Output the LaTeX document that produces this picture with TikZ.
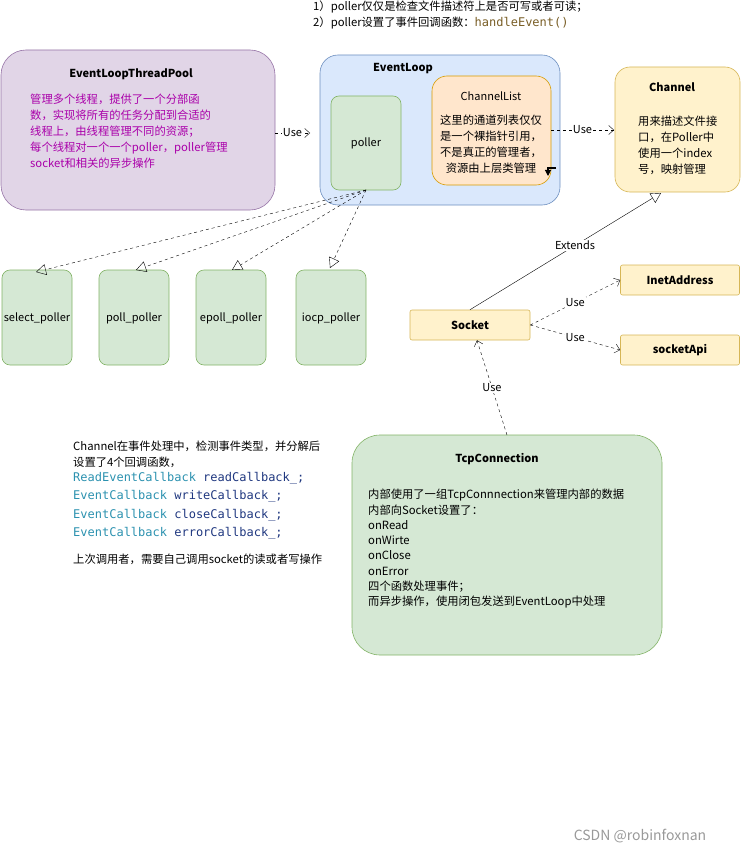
\documentclass[tikz,border=0pt]{standalone}
\usepackage{fontspec}
\setmainfont{Noto Sans CJK SC}
\newfontfamily\codefont{DejaVu Sans Mono}
\usetikzlibrary{arrows.meta,positioning}
\definecolor{poolfill}{HTML}{E1D5E7}\definecolor{pooldraw}{HTML}{9673A6}
\definecolor{loopfill}{HTML}{DAE8FC}\definecolor{loopdraw}{HTML}{6C8EBF}
\definecolor{grnfill}{HTML}{D5E8D4}\definecolor{grndraw}{HTML}{82B366}
\definecolor{orgfill}{HTML}{FFE6CC}\definecolor{orgdraw}{HTML}{D79B00}
\definecolor{ylwfill}{HTML}{FFF2CC}\definecolor{ylwdraw}{HTML}{D6B656}
\definecolor{purtext}{HTML}{AA00AA}
\definecolor{typecol}{HTML}{2B91AF}\definecolor{varcol}{HTML}{1F377F}
\definecolor{fncol}{HTML}{795E26}
\tikzset{
  box/.style={draw, rounded corners=12pt, line width=0.6pt},
  usearrow/.style={dashed, -{Straight Barb[length=5pt,width=9pt]}},
  inherit/.style={-{Triangle[open,length=10pt,width=11pt]}},
  lbl/.style={font=\fontsize{11}{13}\selectfont, fill=white, inner sep=1pt},
  ttl/.style={font=\bfseries\fontsize{11}{13}\selectfont},
  txt/.style={font=\fontsize{11.3}{16}\selectfont, align=left, anchor=north west, inner sep=0pt},
  code/.style={font=\codefont\fontsize{12}{14}\selectfont, anchor=north west, inner sep=0pt}
}
\begin{document}
\begin{tikzpicture}[x=1pt,y=-1pt]
  \useasboundingbox (0,0) rectangle (741,853);
  % notes on top
  \node[txt] (note) at (313,1) {1）poller仅仅是检查文件描述符上是否可写或者可读；\\2）poller设置了事件回调函数：{\codefont\fontsize{12}{14}\selectfont\color{fncol}handleEvent()}};

  % main boxes
  \draw[box, fill=poolfill, draw=pooldraw, rounded corners=25pt] (1,50) rectangle (275,210);
  \coordinate (pool) at (275,133);
  \node[ttl] at (131,74) {EventLoopThreadPool};
  \node[txt, text=purtext] at (30,94) {管理多个线程，提供了一个分部函\\数，实现将所有的任务分配到合适的\\线程上，由线程管理不同的资源；\\每个线程对一个一个poller，poller管理\\socket和相关的异步操作};

  \draw[box, fill=loopfill, draw=loopdraw, rounded corners=18pt] (320,55) rectangle (560,205);
  \coordinate (loop) at (310,133);
  \node[ttl] at (403,69) {EventLoop};

  \draw[box, fill=grnfill, draw=grndraw, rounded corners=8pt] (331,96) rectangle (401,190);
  \node[font=\fontsize{11}{13}\selectfont] at (366,143) {poller};
  \coordinate (poller) at (366,190);

  \draw[box, fill=orgfill, draw=orgdraw, rounded corners=15pt] (432,76) rectangle (551,185);
  \node[font=\fontsize{11}{13}\selectfont] at (491,96) {ChannelList};
  \node[txt, align=center, anchor=north] at (491,115) {这里的通道列表仅仅\\是一个裸指针引用，\\不是真正的管理者，\\资源由上层类管理};
  \coordinate (clist) at (551,130);
  \draw[line width=1.2pt, -{Triangle[length=6pt,width=6pt]}] (556,168) -- (548,168) -- (548,176);

  \draw[box, fill=ylwfill, draw=ylwdraw, rounded corners=15pt] (615,67) rectangle (740,192);
  \node[ttl] at (672,87) {Channel};
  \node[txt] at (638,116) {用来描述文件接\\口，在Poller中\\使用一个index\\号，映射管理};
  \coordinate (chan) at (614,130);
  \coordinate (chanbot) at (661,193);

  % pollers
  \foreach \nm/\x in {select_poller/2, poll_poller/99, epoll_poller/196, iocp_poller/296}{
    \draw[box, fill=grnfill, draw=grndraw, rounded corners=8pt] (\x,270) rectangle (\x+70,365);
    \node[font=\fontsize{11}{13}\selectfont] (\nm) at (\x+35,318) {\detokenize\expandafter{\nm}};
  }
  \draw[dashed, inherit] (poller) -- (36,272);
  \draw[dashed, inherit] (poller) -- (136,270);
  \draw[dashed, inherit] (poller) -- (232,270);
  \draw[dashed, inherit] (poller) -- (330,268);

  % socket side
  \node[box, fill=ylwfill, draw=ylwdraw, rounded corners=2pt, minimum width=120pt, minimum height=30pt, ttl] (sock) at (470,325) {Socket};
  \node[box, fill=ylwfill, draw=ylwdraw, rounded corners=2pt, minimum width=119pt, minimum height=30pt, ttl] (inet) at (680,280) {InetAddress};
  \node[box, fill=ylwfill, draw=ylwdraw, rounded corners=2pt, minimum width=119pt, minimum height=30pt, ttl] (sapi) at (680,350) {socketApi};

  \draw[box, fill=grnfill, draw=grndraw, rounded corners=28pt] (352,435) rectangle (662,655);
  \node[ttl] at (497,459) {TcpConnection};
  \node[txt, font=\fontsize{11.3}{15.3}\selectfont] at (368,489) {内部使用了一组TcpConnnection来管理内部的数据\\内部向Socket设置了：\\onRead\\onWirte\\onClose\\onError\\四个函数处理事件；\\而异步操作，使用闭包发送到EventLoop中处理};
  \coordinate (tcp) at (507,435);

  % connectors
  \draw[usearrow] (pool) -- node[lbl]{Use} (loop);
  \draw[usearrow] (clist) -- node[lbl]{Use} (chan);
  \draw[inherit] (sock.north) -- node[lbl, pos=0.55]{Extends} (chanbot);
  \draw[usearrow] (sock.east) -- node[lbl]{Use} (inet.west);
  \draw[usearrow] (sock.east) -- node[lbl]{Use} (sapi.west);
  \draw[usearrow] (tcp) -- node[lbl]{Use} ([xshift=7pt]sock.south);

  % note on the left
  \node[txt] at (73,441) {Channel在事件处理中，检测事件类型，并分解后\\设置了4个回调函数，};
  \node[code] at (73,472) {\color{typecol}ReadEventCallback \color{varcol}readCallback\_;};
  \node[code] at (73,490) {\color{typecol}EventCallback \color{varcol}writeCallback\_;};
  \node[code] at (73,509) {\color{typecol}EventCallback \color{varcol}closeCallback\_;};
  \node[code] at (73,527) {\color{typecol}EventCallback \color{varcol}errorCallback\_;};
  \node[txt] at (73,554) {上次调用者，需要自己调用socket的读或者写操作};

  \node[font=\fontsize{14}{16}\selectfont, text=gray!80] at (640,836) {CSDN @robinfoxnan};
\end{tikzpicture}
\end{document}
